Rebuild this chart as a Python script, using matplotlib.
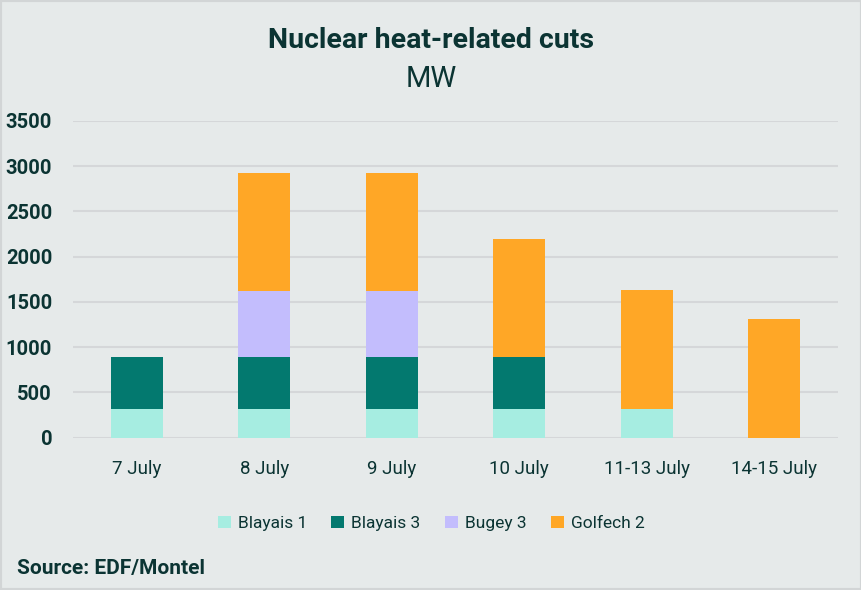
import matplotlib.pyplot as plt
from matplotlib.patches import Rectangle
import numpy as np

# --- data ---
days = ["7 July", "8 July", "9 July", "10 July", "11-13 July", "14-15 July"]
blayais_1 = [320, 320, 320, 320, 320, 0]
blayais_3 = [570, 570, 570, 570, 0, 0]
bugey_3 = [0, 730, 730, 0, 0, 0]
golfech_2 = [0, 1300, 1300, 1300, 1310, 1310]

series = [
    ("Blayais 1", blayais_1, "#A6EDE1"),
    ("Blayais 3", blayais_3, "#03796F"),
    ("Bugey 3", bugey_3, "#C3BDFD"),
    ("Golfech 2", golfech_2, "#FFA726"),
]

bg = "#E6EAEA"
text_col = "#0B3433"
plt.rcParams['font.family'] = ['Roboto', 'DejaVu Sans']

fig = plt.figure(figsize=(8.62, 5.90), dpi=100, facecolor=bg)
ax = fig.add_axes([0.0847, 0.258, 0.8875, 0.5374])
ax.set_facecolor(bg)

x = np.arange(len(days))
bottom = np.zeros(len(days))
for name, vals, col in series:
    vals = np.array(vals, dtype=float)
    ax.bar(x, vals, bottom=bottom, width=0.41, color=col, label=name, zorder=3)
    bottom += vals

ax.set_xlim(-0.5, len(days) - 0.5)
ax.set_ylim(0, 3500)
ax.set_yticks(np.arange(0, 3501, 500))
ax.yaxis.grid(True, color="#D5D7D9", linewidth=1.5, zorder=0)
ax.set_axisbelow(True)
for s in ax.spines.values():
    s.set_visible(False)
ax.tick_params(length=0)
ax.tick_params(axis="y", pad=15, labelsize=14.5, labelcolor=text_col)
ax.tick_params(axis="x", pad=16, labelsize=13.5, labelcolor=text_col)
ax.set_xticks(x)
ax.set_xticklabels(days)
for lab in ax.get_yticklabels():
    lab.set_fontweight("bold")

fig.text(0.5, 0.932, "Nuclear heat-related cuts", ha="center", va="center",
         fontsize=20.5, fontweight="bold", color=text_col)
fig.text(0.5, 0.866, "MW", ha="center", va="center", fontsize=21, color=text_col)

ax.legend(loc="center", bbox_to_anchor=(0.5, 0.113), bbox_transform=fig.transFigure,
          ncol=4, frameon=False, fontsize=12.5, handlelength=0.75, handleheight=0.75,
          handletextpad=0.4, columnspacing=1.4, labelcolor=text_col)

fig.text(0.02, 0.037, "Source: EDF/Montel", ha="left", va="center",
         fontsize=15, fontweight="bold", color=text_col)

fig.patches.append(Rectangle((0, 0), 1, 1, transform=fig.transFigure, fill=False,
                             edgecolor="#D2D5D6", linewidth=3))

fig.savefig("out.png", dpi=100, facecolor=bg)
